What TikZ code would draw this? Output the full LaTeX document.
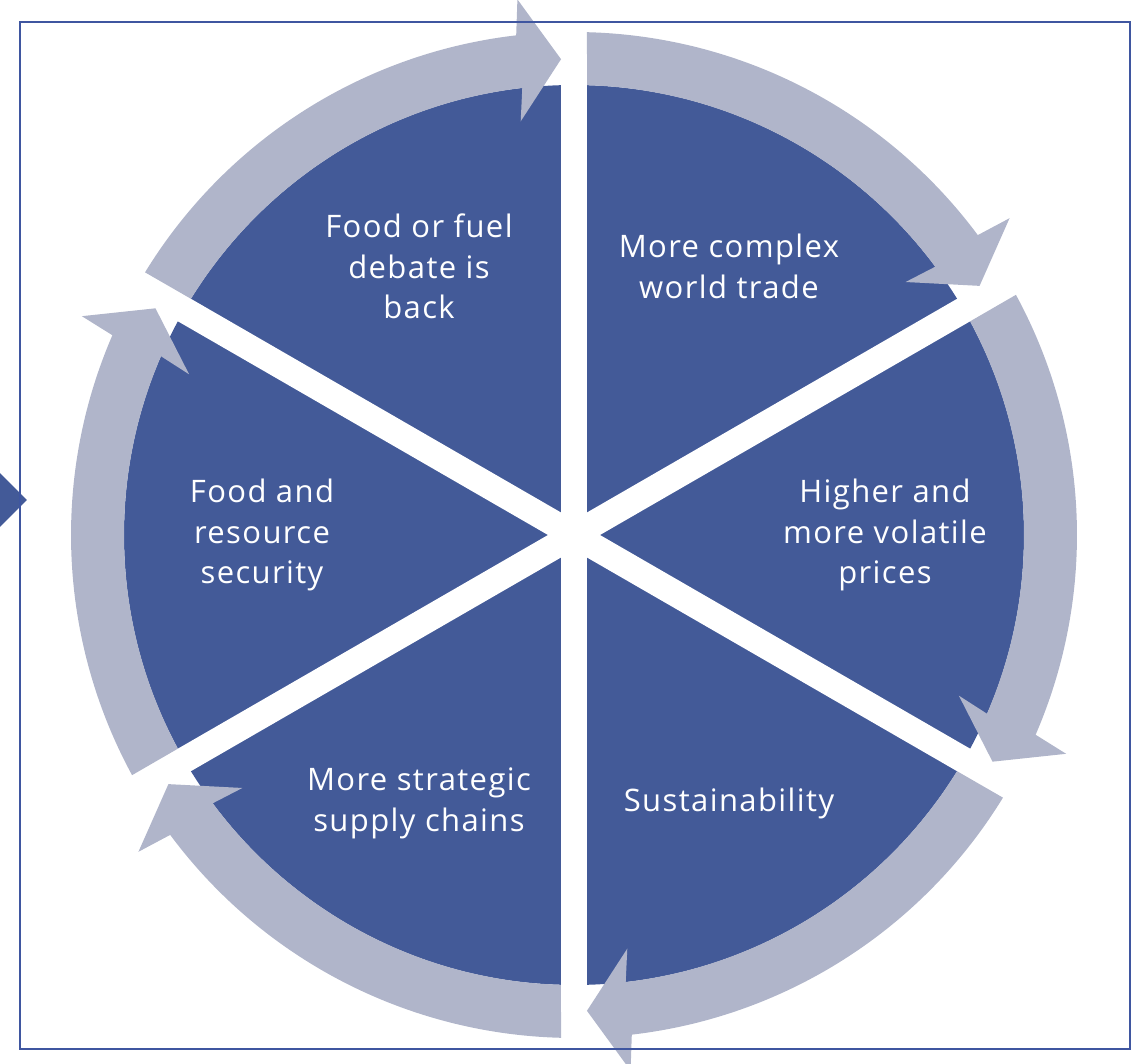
\documentclass[tikz,border=0pt]{standalone}
\usepackage{fontspec}
\usepackage{xcolor}
\usepackage{tikz}
\setmainfont{Open Sans}
\newfontfamily\labelfont{Open Sans}[LetterSpace=4.5]
\definecolor{pieblue}{HTML}{435A98}
\definecolor{ringgray}{HTML}{B0B5CA}
\definecolor{frameblue}{HTML}{3F56A0}
\usetikzlibrary{calc}

\begin{document}
\begin{tikzpicture}[x=1pt, y=1pt,
    sectortext/.style={text=white, align=center, font=\labelfont\fontsize{31}{40.5}\selectfont}]
\useasboundingbox (-574,-529) rectangle (563,535);
% Draw the pie and cut it into six sectors
\fill[pieblue] (0,0) circle (450);
\foreach \a in {90,30,-30} {
    \draw[white, line width=26pt] (\a:455) -- (\a+180:455);
}
% Draw the six curved arrows of the ring
\foreach \k in {0,...,5} {
    \begin{scope}[rotate=-60*\k]
    \fill[ringgray] (88.52:503) arc[start angle=88.52, end angle=36.6, radius=503]
        -- (36.03:538.6) -- (31.56:476) -- (37.34:417.1)
        -- (36.6:450) arc[start angle=36.6, end angle=88.34, radius=450] -- cycle;
    \end{scope}
}
% Stray arrowhead at the left edge
\fill[pieblue] (-580,68) -- (-547,35) -- (-580,2) -- cycle;
% Labels of the sectors
\node[sectortext] (fuel) at (120:310) {Food or fuel\\debate is\\back};
\node[sectortext] (trade) at (60:310) {More complex\\world trade};
\node[sectortext] (prices) at (0:311) {Higher and\\more volatile\\prices};
\node[sectortext] (sustain) at (-60:310) {Sustainability};
\node[sectortext] (supply) at (-120:310) {More strategic\\supply chains};
\node[sectortext] (security) at (180:312) {Food and\\resource\\security};
% Frame
\draw[frameblue, line width=2pt] (-554,-514) rectangle (556,513);
\end{tikzpicture}
\end{document}
